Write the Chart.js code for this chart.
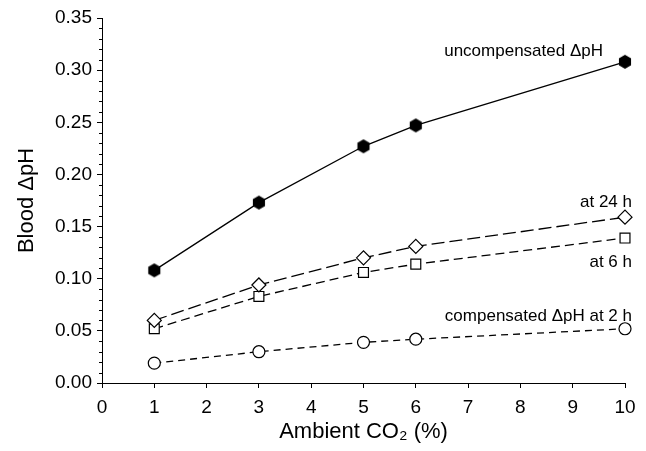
<!DOCTYPE html>
<html>
<head>
<meta charset="utf-8">
<script src="https://cdn.jsdelivr.net/npm/chart.js@4/dist/chart.umd.min.js"></script>
<style>
  html, body { margin: 0; padding: 0; background: #fff; }
  #wrap { width: 646px; height: 451px; }
</style>
</head>
<body>
<div id="wrap"><canvas id="chart"></canvas></div>
<script>
// data
const co2 = [1, 3, 5, 6, 10];
const uncompensated = [0.108, 0.173, 0.227, 0.247, 0.308];
const at24h = [0.060, 0.094, 0.120, 0.131, 0.159];
const at6h = [0.052, 0.083, 0.106, 0.114, 0.139];
const at2h = [0.019, 0.030, 0.039, 0.042, 0.052];

const xTicks = [0, 1, 2, 3, 4, 5, 6, 7, 8, 9, 10];
const yTicks = [0, 0.05, 0.10, 0.15, 0.20, 0.25, 0.30, 0.35];

const FONT = '"Liberation Sans", Arial, sans-serif';

// filled hexagon marker (no built-in style for it)
function hexagonMarker(r) {
    const c = document.createElement('canvas');
    const s = Math.ceil(r * 2 + 2);
    c.width = s; c.height = s;
    const g = c.getContext('2d');
    g.beginPath();
    for (let i = 0; i < 6; i++) {
        const a = Math.PI / 2 + i * Math.PI / 3;
        const px = s / 2 + r * Math.cos(a), py = s / 2 - r * Math.sin(a);
        if (i === 0) g.moveTo(px, py); else g.lineTo(px, py);
    }
    g.closePath();
    g.fillStyle = '#000';
    g.fill();
    return c;
}

function pts(ys) {
    return co2.map((x, i) => ({ x: x, y: ys[i] }));
}

// text labels tied to the last point of a series
const seriesLabels = [
    { text: 'uncompensated \u0394pH', ds: 0, dx: -22, dy: -10 },
    { text: 'at 24 h', ds: 1, dx: 7, dy: -15 },
    { text: 'at 6 h', ds: 2, dx: 7, dy: 24 },
    { text: 'compensated \u0394pH at 2 h', ds: 3, dx: 7, dy: -12 },
];

const labelPlugin = {
    id: 'seriesLabels',
    afterDatasetsDraw(chart) {
        const ctx = chart.ctx;
        ctx.save();
        ctx.font = '17px ' + FONT;
        ctx.fillStyle = '#000';
        ctx.textAlign = 'right';
        ctx.textBaseline = 'middle';
        seriesLabels.forEach(l => {
            const d = chart.data.datasets[l.ds].data;
            const p = d[d.length - 1];
            const x = chart.scales.x.getPixelForValue(p.x);
            const y = chart.scales.y.getPixelForValue(p.y);
            ctx.fillText(l.text, x + l.dx, y + l.dy);
        });
        ctx.restore();
    }
};

// minor ticks on the y axis every 0.01
const minorTicks = {
    id: 'minorTicks',
    afterDraw(chart) {
        const ctx = chart.ctx, y = chart.scales.y;
        const left = chart.chartArea.left;
        ctx.save();
        ctx.strokeStyle = '#000';
        ctx.lineWidth = 1;
        for (let i = 0; i <= 35; i++) {
            if (i % 5 === 0) continue;
            const py = Math.round(y.getPixelForValue(i / 100)) + 0.5;
            ctx.beginPath();
            ctx.moveTo(left - 3, py);
            ctx.lineTo(left, py);
            ctx.stroke();
        }
        ctx.restore();
    }
};

new Chart(document.getElementById('chart'), {
    type: 'line',
    data: {
        datasets: [
            {
                label: 'uncompensated', data: pts(uncompensated), clip: false,
                borderColor: '#000', borderWidth: 1.3,
                pointStyle: hexagonMarker(7), pointRadius: 7
            },
            {
                label: 'at 24 h', data: pts(at24h), clip: false,
                borderColor: '#000', borderWidth: 1.3, borderDash: [13, 5],
                pointStyle: 'rectRot', pointRadius: 7,
                pointBackgroundColor: '#fff', pointBorderColor: '#000', pointBorderWidth: 1.2
            },
            {
                label: 'at 6 h', data: pts(at6h), clip: false,
                borderColor: '#000', borderWidth: 1.3, borderDash: [9, 5],
                pointStyle: 'rect', pointRadius: 7,
                pointBackgroundColor: '#fff', pointBorderColor: '#000', pointBorderWidth: 1.2
            },
            {
                label: 'at 2 h', data: pts(at2h), clip: false,
                borderColor: '#000', borderWidth: 1.3, borderDash: [7, 5],
                pointStyle: 'circle', pointRadius: 6,
                pointBackgroundColor: '#fff', pointBorderColor: '#000', pointBorderWidth: 1.2
            }
        ]
    },
    options: {
        responsive: true,
        maintainAspectRatio: false,
        animation: false,
        layout: { padding: { top: 18, right: 21, left: 0, bottom: 0 } },
        plugins: { legend: { display: false }, tooltip: { enabled: false } },
        scales: {
            x: {
                type: 'linear', min: 0, max: 10,
                afterBuildTicks: s => { s.ticks = xTicks.map(v => ({ value: v })); },
                afterFit: s => { s.height = 68; },
                grid: { drawOnChartArea: false, tickLength: 5, color: '#000' },
                border: { color: '#000', width: 1 },
                ticks: { color: '#000', font: { family: FONT, size: 19 }, padding: 8, maxRotation: 0 },
                title: {
                    display: true, text: 'Ambient CO\u2082 (%)', color: '#000',
                    font: { family: FONT, size: 22 }, padding: { top: 0, bottom: 6 }
                }
            },
            y: {
                min: 0, max: 0.35,
                afterBuildTicks: s => { s.ticks = yTicks.map(v => ({ value: v })); },
                afterFit: s => { s.width = 102; },
                grid: { drawOnChartArea: false, tickLength: 5, color: '#000' },
                border: { color: '#000', width: 1 },
                ticks: {
                    color: '#000', font: { family: FONT, size: 19 }, padding: 5,
                    callback: v => v.toFixed(2)
                },
                title: {
                    display: true, text: 'Blood \u0394pH', color: '#000',
                    font: { family: FONT, size: 22 }, padding: { top: 14, bottom: 0 }
                }
            }
        }
    },
    plugins: [labelPlugin, minorTicks]
});
</script>
</body>
</html>
